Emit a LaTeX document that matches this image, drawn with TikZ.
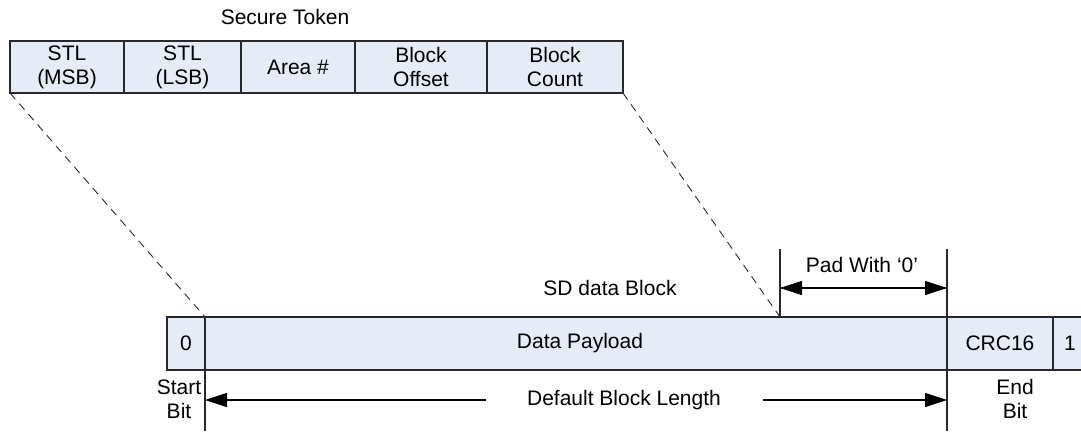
\documentclass[tikz,border=0pt]{standalone}
\usepackage{fontspec}
\setmainfont{Liberation Sans}
\usetikzlibrary{arrows.meta}
\definecolor{fieldfill}{RGB}{229,236,247}
\definecolor{edge}{RGB}{40,40,40}
\tikzset{
  field/.style={draw=edge, fill=fieldfill, line width=1.2pt, inner sep=0pt, outer sep=0pt,
    align=center, font=\fontsize{21}{24}\selectfont},
  lbl/.style={inner sep=0pt, align=center, font=\fontsize{21}{24}\selectfont},
  guide/.style={draw=edge, line width=1.1pt},
  zoomline/.style={draw=edge, line width=0.9pt, dash pattern=on 8pt off 6pt},
  dim/.style={draw=black, line width=1.1pt},
  tip/.style={-{Triangle[length=22pt,width=14pt]}},
}
\begin{document}
\begin{tikzpicture}[x=1pt,y=-1pt]
\useasboundingbox (0,0) rectangle (1081,431);

% secure token fields
\node[lbl] (tokentitle) at (285,17) {Secure Token};
\node[field, minimum width=114pt, minimum height=52pt] (msb) at (67,67) {STL\\(MSB)};
\node[field, minimum width=117pt, minimum height=52pt] (lsb) at (182.5,67) {STL\\(LSB)};
\node[field, minimum width=114pt, minimum height=52pt] (area) at (298,67) {Area \#};
\node[field, minimum width=132pt, minimum height=52pt] (offset) at (421,67) {Block\\Offset};
\node[field, minimum width=136pt, minimum height=52pt] (count) at (555,67) {Block\\Count};

% SD data block fields
\fill[fieldfill] (1053,317) rectangle (1081,370);
\draw[edge, line width=1.2pt] (1081,317) -- (1053,317) -- (1053,370) -- (1081,370);
\node[lbl] (one) at (1070,343.5) {1};
\node[field, minimum width=38pt, minimum height=53pt] (startb) at (186,343.5) {0};
\node[field, minimum width=742pt, minimum height=53pt] (payload) at (576,343.5) {\hspace*{8pt}Data Payload};
\node[field, minimum width=106pt, minimum height=53pt] (crc) at (1000,343.5) {CRC16};

\node[lbl] (sdtitle) at (610,288) {SD data Block};

% reference points for the guide lines
\coordinate (padtop) at (780,317);
\coordinate (padup) at (780,249);
\coordinate (endup) at (947,249);
\coordinate (endbot) at (947,431);
\coordinate (startbot) at (205,431);

% zoom lines from the token to the payload
\draw[zoomline] (msb.south west) -- (payload.north west);
\draw[zoomline] (count.south east) -- (padtop);

% vertical guides
\draw[guide] (padup) -- (padtop);
\draw[guide] (endup) -- (endbot);
\draw[guide] (payload.south west) -- (startbot);

% padding span
\draw[dim, tip] (padup |- 0,288) -- (endup |- 0,288);
\draw[dim, tip] (endup |- 0,288) -- (padup |- 0,288);
\node[lbl] (padlbl) at (862,265) {Pad With ‘0’};

% default block length span
\node[lbl] (lenlbl) at (624,400) {Default Block Length};
\draw[dim, tip] (lenlbl.west) ++(-41,0) -- (startbot |- lenlbl.west);
\draw[dim, tip] (lenlbl.east) ++(42,0) -- (endbot |- lenlbl.east);

\node[lbl] (startlbl) at (179,399) {Start\\Bit};
\node[lbl] (endlbl) at (1015,399) {End\\Bit};
\end{tikzpicture}
\end{document}
